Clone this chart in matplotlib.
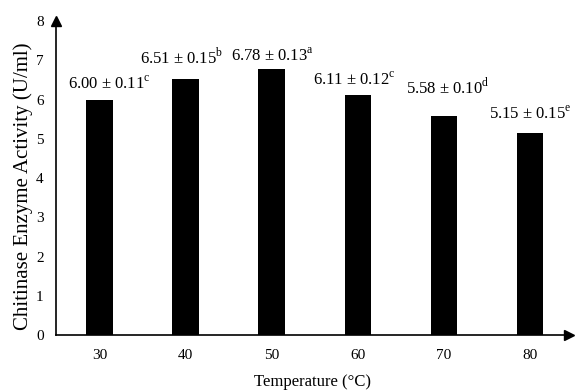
import matplotlib.pyplot as plt

temps = ['30', '40', '50', '60', '70', '80']
activity = [6.00, 6.51, 6.78, 6.11, 5.58, 5.15]
errors = [0.11, 0.15, 0.13, 0.12, 0.10, 0.15]
letters = ['c', 'b', 'a', 'c', 'd', 'e']

plt.rcParams['font.family'] = 'Liberation Serif'
plt.rcParams['mathtext.fontset'] = 'custom'
plt.rcParams['mathtext.rm'] = 'Liberation Serif'

fig = plt.figure(figsize=(5.75, 3.92), dpi=100)
ax = fig.add_axes([0.0974, 0.1454, 0.892, 0.801])

x = range(len(temps))
ax.bar(x, activity, width=0.31, color='black')

# label offsets in pixels (dx, dy above bar top), placed by hand like the original
offsets = [(10, 11), (-4, 16), (1, 8), (-4, 11), (4, 23), (0, 14)]
for i, (v, e, l) in enumerate(zip(activity, errors, letters)):
    ax.annotate('%.2f ± %.2f$^{\\mathrm{%s}}$' % (v, e, l), (i, v),
                xytext=(offsets[i][0] * 0.72, offsets[i][1] * 0.72),
                textcoords='offset points', ha='center', va='baseline',
                fontsize=12)

ax.set_xlim(-0.505, 5.45)
ax.set_ylim(0, 8)
ax.set_yticks(range(9))
ax.set_xticks(list(x))
ax.set_xticklabels(temps)
ax.tick_params(length=0, labelsize=11)
ax.tick_params(axis='y', pad=9)
ax.tick_params(axis='x', pad=10)

for s in ['top', 'right']:
    ax.spines[s].set_visible(False)
ax.spines['left'].set_linewidth(1.2)
ax.spines['bottom'].set_linewidth(1.2)
ax.plot(1, 0, '>k', markersize=7, transform=ax.transAxes, clip_on=False)
ax.plot(0, 1, '^k', markersize=7, transform=ax.transAxes, clip_on=False)

ax.set_xlabel('Temperature (°C)', fontsize=12, labelpad=9)
ax.set_ylabel('Chitinase Enzyme Activity (U/ml)', fontsize=15)
ax.yaxis.set_label_coords(-0.045, 0.475)

plt.savefig('out.png', dpi=100)
